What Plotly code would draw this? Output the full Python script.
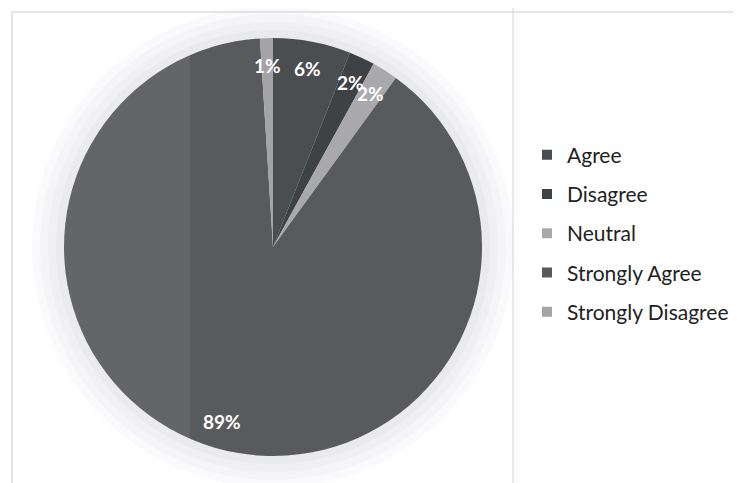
import math
import plotly.graph_objects as go

categories = ["Agree", "Disagree", "Neutral", "Strongly Agree", "Strongly Disagree"]
values = [6, 2, 2, 89, 1]
colors = ["#4b4e50", "#3f4244", "#a9a9ab", "#595a5c", "#a4a4a6"]

W, H = 741, 483
OFF = 8  # page body margin
CX, CY, R = 273 - OFF, 247 - OFF, 209  # pie centre / radius in px (from top-left of figure)

fig = go.Figure()

fig.add_trace(go.Pie(
    labels=categories, values=values, sort=False, direction="clockwise", rotation=0,
    marker=dict(colors=colors, line=dict(width=0)),
    textinfo="none", hoverinfo="label+percent", showlegend=False,
    domain=dict(x=[(CX - R) / W, (CX + R) / W], y=[(H - CY - R) / H, (H - CY + R) / H]),
))

# legend entries
for i, (c, col) in enumerate(zip(categories, colors)):
    fig.add_trace(go.Scatter(
        x=[None], y=[None], mode="markers", name=c, legendgroup=f"g{i}",
        marker=dict(symbol="square", size=10, color=col),
    ))

# percent labels placed at inner end of each slice
total = sum(values)
annotations = []
start = 0.0
for v in values:
    frac = v / total
    mid = (start + frac / 2) * 2 * math.pi
    start += frac
    f = 0.87
    px = CX + R * f * math.sin(mid)
    py = CY - R * f * math.cos(mid)
    annotations.append(dict(
        x=px / W, y=1 - py / H, xref="paper", yref="paper", showarrow=False,
        xanchor="center", yanchor="middle",
        text=f"<b>{round(frac * 100)}%</b>",
        font=dict(family="Lato, 'Open Sans', sans-serif", size=19, color="white"),
    ))


def ring(extra, color):
    return dict(type="circle", xref="paper", yref="paper", layer="below",
                x0=(CX - R - extra) / W, x1=(CX + R + extra) / W,
                y0=1 - (CY + R + extra) / H, y1=1 - (CY - R - extra) / H,
                fillcolor=color, line=dict(width=0))


shapes = [
    # soft scan halo around the pie
    ring(32, "#fafafc"),
    ring(24, "#f5f5f8"),
    ring(16, "#f0f0f4"),
    ring(8, "#eaeaee"),
    # frame lines
    dict(type="line", xref="paper", yref="paper", x0=(12 - OFF) / W, x1=1,
         y0=1 - (12 - OFF) / H, y1=1 - (12 - OFF) / H, line=dict(color="#c9c9cd", width=1)),
    dict(type="line", xref="paper", yref="paper", x0=(12 - OFF) / W, x1=(12 - OFF) / W,
         y0=0, y1=1 - (12 - OFF) / H, line=dict(color="#c9c9cd", width=1)),
    dict(type="line", xref="paper", yref="paper", x0=(513 - OFF) / W, x1=(513 - OFF) / W,
         y0=0, y1=1, line=dict(color="#d2d2d6", width=1)),
    # lighter scan band on the left part of the pie
    dict(type="rect", xref="paper", yref="paper", layer="above",
         x0=(CX - R) / W, x1=(190 - OFF) / W, y0=1 - (CY + R) / H, y1=1 - (CY - R) / H,
         fillcolor="rgba(255,255,255,0.07)", line=dict(width=0)),
]

fig.update_layout(
    width=W, height=H,
    margin=dict(l=0, r=0, t=0, b=0),
    paper_bgcolor="white", plot_bgcolor="white",
    xaxis=dict(visible=False), yaxis=dict(visible=False),
    legend=dict(x=(527 - OFF) / W, y=1 - (233.5 - OFF) / H, xanchor="left", yanchor="middle",
                font=dict(family="Lato, 'Open Sans', sans-serif", size=21, color="#222222"),
                traceorder="grouped", tracegroupgap=9, bgcolor="rgba(0,0,0,0)"),
    annotations=annotations,
    shapes=shapes,
)

fig.write_html("out.html")
